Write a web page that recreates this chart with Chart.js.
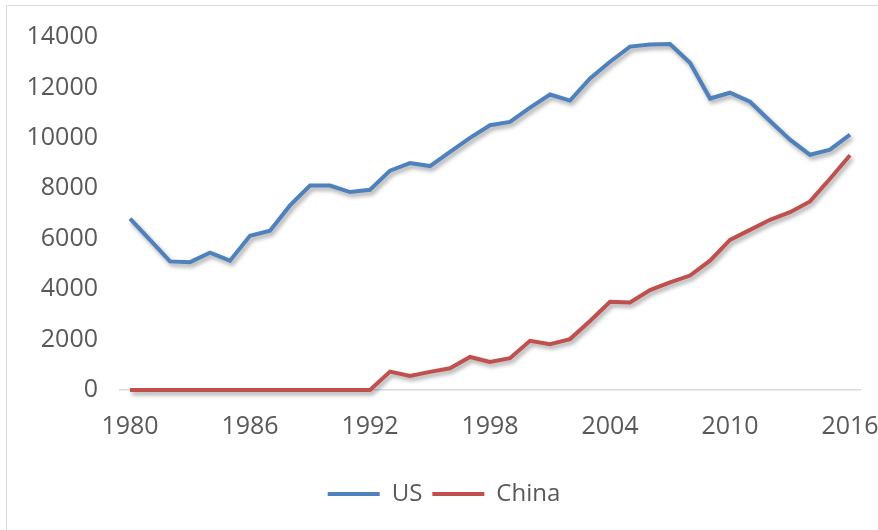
<!DOCTYPE html>
<html lang="en">
<head>
    <meta charset="utf-8">
    <title>US vs China</title>
    <style>
        html, body { margin: 0; padding: 0; background: #fff; }
        .frame {
            position: absolute; left: 6px; top: 5px; width: 880px; height: 540px;
            border-left: 1.5px solid #d9d9d9; border-top: 1.5px solid #d9d9d9;
        }
        .chart-box { position: absolute; left: 0; top: 0; width: 878px; height: 530px; }
    </style>
</head>
<body>
    <div class="frame"></div>
    <div class="chart-box">
        <canvas id="gdpChart"></canvas>
    </div>

    <script src="https://cdn.jsdelivr.net/npm/chart.js"></script>
    <script>
        const years = [];
        for (let y = 1980; y <= 2016; y++) years.push(String(y));

        const usValues = [
            6800, 5950, 5100, 5070, 5450, 5130, 6120, 6320, 7320, 8110,
            8110, 7850, 7940, 8700, 9000, 8880, 9440, 10000, 10500, 10630,
            11200, 11720, 11480, 12360, 13020, 13620, 13700, 13720, 12980, 11560,
            11790, 11430, 10670, 9930, 9330, 9530, 10130
        ];
        const chinaValues = [
            0, 0, 0, 0, 0, 0, 0, 0, 0, 0,
            0, 0, 0, 730, 560, 720, 860, 1310, 1110, 1260,
            1950, 1820, 2020, 2740, 3500, 3470, 3960, 4270, 4540, 5130,
            5950, 6350, 6750, 7050, 7480, 8380, 9310
        ];
        const yTicks = [0, 2000, 4000, 6000, 8000, 10000, 12000, 14000];

        // soft drop shadow under the lines
        const lineShadow = {
            id: 'lineShadow',
            beforeDatasetsDraw(chart) {
                const ctx = chart.ctx;
                ctx.save();
                ctx.shadowColor = 'rgba(0, 0, 0, 0.35)';
                ctx.shadowBlur = 4;
                ctx.shadowOffsetX = 2;
                ctx.shadowOffsetY = 3;
            },
            afterDatasetsDraw(chart) {
                chart.ctx.restore();
            }
        };

        const textColor = '#595959';
        const fontFamily = '"Open Sans", "Liberation Sans", sans-serif';

        new Chart(document.getElementById('gdpChart'), {
            type: 'line',
            data: {
                labels: years,
                datasets: [{
                    label: 'US',
                    data: usValues,
                    borderColor: '#4f81bd',
                    backgroundColor: '#4f81bd',
                    borderWidth: 4,
                    pointRadius: 0,
                    tension: 0,
                    clip: false
                }, {
                    label: 'China',
                    data: chinaValues,
                    borderColor: '#c0504d',
                    backgroundColor: '#c0504d',
                    borderWidth: 4,
                    pointRadius: 0,
                    tension: 0,
                    clip: false
                }]
            },
            options: {
                responsive: true,
                maintainAspectRatio: false,
                animation: false,
                layout: { padding: { top: 37, right: 0, bottom: 14, left: 10 } },
                plugins: {
                    tooltip: { enabled: false },
                    legend: {
                        position: 'bottom',
                        labels: {
                            usePointStyle: true,
                            pointStyle: 'line',
                            pointStyleWidth: 52,
                            padding: 10,
                            color: textColor,
                            font: { family: fontFamily, size: 24 }
                        }
                    }
                },
                scales: {
                    x: {
                        offset: true,
                        grid: { display: false, drawTicks: false },
                        border: { display: true, color: '#d9d9d9', width: 1.5 },
                        ticks: {
                            autoSkip: false,
                            maxRotation: 0,
                            padding: 22,
                            color: textColor,
                            font: { family: fontFamily, size: 25 },
                            callback: function (val, i) {
                                return i % 6 === 0 ? years[i] : '';
                            }
                        },
                        afterFit: s => {
                            s.height = 82;
                            s.paddingLeft = 0;
                            s.paddingRight = 0;
                        }
                    },
                    y: {
                        min: 0,
                        max: 14000,
                        grid: { display: false, drawTicks: false },
                        border: { display: false },
                        afterBuildTicks: s => { s.ticks = yTicks.map(v => ({ value: v })); },
                        ticks: {
                            padding: 22,
                            color: textColor,
                            font: { family: fontFamily, size: 25 },
                            callback: v => String(v)
                        },
                        afterFit: s => { s.width = 110; }
                    },
                    y2: {
                        position: 'right',
                        grid: { display: false },
                        border: { display: false },
                        ticks: { display: false },
                        afterFit: s => { s.width = 18; }
                    }
                }
            },
            plugins: [lineShadow]
        });
    </script>
</body>
</html>
